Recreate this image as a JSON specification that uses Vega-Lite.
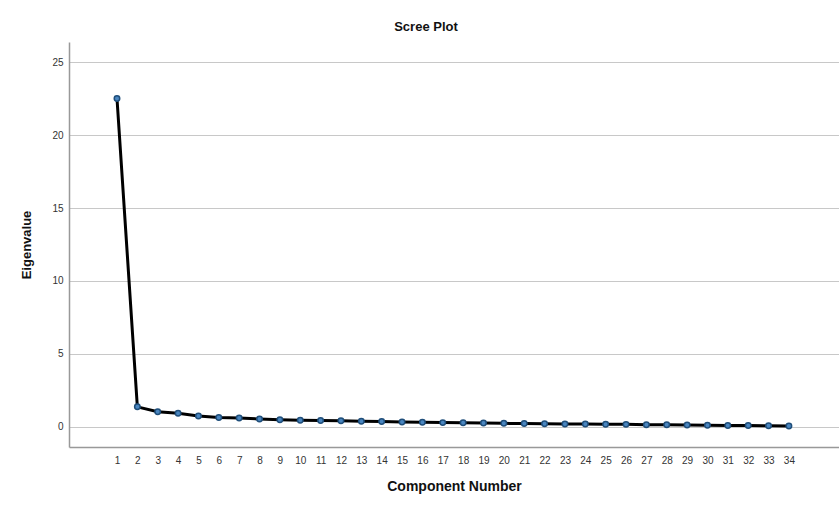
{
  "$schema": "https://vega.github.io/schema/vega-lite/v6.json",
  "autosize": "none",
  "width": 770,
  "height": 405,
  "padding": {"left": 69, "top": 42, "right": 0, "bottom": 68},
  "background": "white",
  "config": {
    "font": "Liberation Sans",
    "view": {"stroke": null},
    "axis": {"labelFont": "Liberation Sans", "titleFont": "Liberation Sans", "labelColor": "#333333", "titleColor": "#111111"}
  },
  "title": {"text": "Scree Plot", "fontSize": 13, "fontWeight": "bold", "color": "#111111", "anchor": "middle", "offset": 8, "dx": -28},
  "data": {
    "values": [
      {"component": 1, "eigenvalue": 22.5},
      {"component": 2, "eigenvalue": 1.38},
      {"component": 3, "eigenvalue": 1.05},
      {"component": 4, "eigenvalue": 0.94},
      {"component": 5, "eigenvalue": 0.75},
      {"component": 6, "eigenvalue": 0.65},
      {"component": 7, "eigenvalue": 0.62},
      {"component": 8, "eigenvalue": 0.55},
      {"component": 9, "eigenvalue": 0.5},
      {"component": 10, "eigenvalue": 0.47},
      {"component": 11, "eigenvalue": 0.45},
      {"component": 12, "eigenvalue": 0.43},
      {"component": 13, "eigenvalue": 0.39},
      {"component": 14, "eigenvalue": 0.37},
      {"component": 15, "eigenvalue": 0.35},
      {"component": 16, "eigenvalue": 0.33},
      {"component": 17, "eigenvalue": 0.3},
      {"component": 18, "eigenvalue": 0.29},
      {"component": 19, "eigenvalue": 0.27},
      {"component": 20, "eigenvalue": 0.25},
      {"component": 21, "eigenvalue": 0.24},
      {"component": 22, "eigenvalue": 0.22},
      {"component": 23, "eigenvalue": 0.21},
      {"component": 24, "eigenvalue": 0.2},
      {"component": 25, "eigenvalue": 0.19},
      {"component": 26, "eigenvalue": 0.18},
      {"component": 27, "eigenvalue": 0.16},
      {"component": 28, "eigenvalue": 0.15},
      {"component": 29, "eigenvalue": 0.13},
      {"component": 30, "eigenvalue": 0.12},
      {"component": 31, "eigenvalue": 0.11},
      {"component": 32, "eigenvalue": 0.1},
      {"component": 33, "eigenvalue": 0.08},
      {"component": 34, "eigenvalue": 0.07}
    ]
  },
  "encoding": {
    "x": {
      "field": "component", "type": "quantitative",
      "scale": {"domain": [-1.357, 36.46], "nice": false, "zero": false},
      "axis": {
        "title": "Component Number", "titleFontSize": 14, "titleFontWeight": "bold", "titlePadding": 14,
        "values": [1,2,3,4,5,6,7,8,9,10,11,12,13,14,15,16,17,18,19,20,21,22,23,24,25,26,27,28,29,30,31,32,33,34],
        "labelFontSize": 10, "labelPadding": 8, "ticks": false, "grid": false,
        "domainColor": "#999999", "domainWidth": 1.5, "labelFlush": false, "labelOverlap": false
      }
    },
    "y": {
      "field": "eigenvalue", "type": "quantitative",
      "scale": {"domain": [-1.37, 26.37], "nice": false, "zero": false},
      "axis": {
        "title": "Eigenvalue", "titleFontSize": 13, "titleFontWeight": "bold", "titlePadding": 18,
        "values": [0, 5, 10, 15, 20, 25], "labelFontSize": 10, "labelPadding": 6, "ticks": false,
        "grid": true, "gridColor": "#c8c8c8", "gridWidth": 1.2,
        "domainColor": "#999999", "domainWidth": 1.5
      }
    }
  },
  "layer": [
    {"mark": {"type": "line", "color": "#000000", "strokeWidth": 3}},
    {"mark": {"type": "point", "filled": true, "fill": "#4a86c0", "stroke": "#1f4e7a", "strokeWidth": 1.5, "size": 30, "opacity": 1}}
  ]
}
